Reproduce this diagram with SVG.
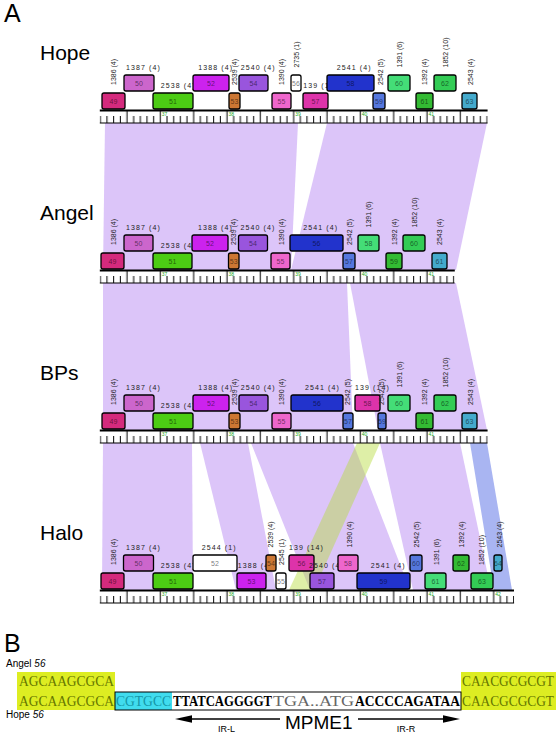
<svg xmlns="http://www.w3.org/2000/svg" width="560" height="735" viewBox="0 0 560 735">
<defs>
<style>
text{font-family:"Liberation Sans",Arial,sans-serif}
.t{font-size:21px;fill:#000}
.h{font-size:7px;letter-spacing:1.1px;fill:#222}
.v{font-size:7px;fill:#222}
.n{font-size:7px;text-anchor:middle;fill:#000;fill-opacity:.55}
.bx{stroke:#000;stroke-width:1.3;rx:2px}
.kb{font-size:5px;fill:#2a2}
.ax{stroke:#000;stroke-width:2}
.band{fill:#dcc5f9}
.c49{fill:#d42a7d}.c50{fill:#cc66cc}.c51{fill:#4ccc14}.c52{fill:#cc22ee}.c53{fill:#cc7733}.c54{fill:#9955dd}
.c55{fill:#ee66cc}.cw{fill:#fff}.c139{fill:#dd33aa}.c2541{fill:#2233cc}.c2542{fill:#5577dd}.c1391{fill:#44dd77}
.c1392{fill:#33bb33}.c1852{fill:#33cc55}.c2543{fill:#44aacc}
.seq{font-family:"Liberation Serif","Times New Roman",serif;font-size:14px}
.yl{fill:#dded22}.yt{fill:#667700}
</style>
<pattern id="tk" patternUnits="userSpaceOnUse" x="99.3333" y="110" width="33.3333" height="160">
<path d="M1 6V13M7.667 6V13M14.333 6V13M21 6V13M27.667 1V13" stroke="#000" stroke-width="1"/>
<rect x="0" y="12.5" width="33.3333" height="1" fill="#000"/>
</pattern>
</defs>
<rect width="560" height="735" fill="#fff"/>

<g id="connectors">
<polygon class="band" points="105,123 298,123 291,270 103,270"/>
<polygon class="band" points="327,123 487,123 456,270 291,270"/>
<polygon class="band" points="103,283 347,283 353,430 103,430"/>
<polygon class="band" points="350,283 456,283 487,430 378,430"/>
<polygon class="band" points="103,443 192,443 193,590 102,590"/>
<polygon class="band" points="200,443 248,443 276,590 236,590"/>
<polygon class="band" points="251,443 353,443 410,590 310,590"/>
<polygon class="band" points="380,443 460,443 491,590 413,590"/>
<polygon points="470,443 487,443 512,590 494,590" fill="#a9b5f2"/>
<polygon points="357,443 380,443 314,590 289,590" fill="#b5dc3c" fill-opacity=".45"/>
</g>

<text x="4" y="22" font-size="25">A</text>
<text x="4" y="652" font-size="25">B</text>

<g id="rulers">
<rect x="99.8" y="110" width="387.8" height="14" fill="url(#tk)"/>
<line class="ax" x1="99.8" y1="110.5" x2="487.6" y2="110.5"/>
<rect x="99.8" y="270" width="354.8" height="14" fill="url(#tk)"/>
<line class="ax" x1="99.8" y1="270.5" x2="454.8" y2="270.5"/>
<rect x="99.8" y="430" width="387.8" height="14" fill="url(#tk)"/>
<line class="ax" x1="99.8" y1="430.5" x2="487.6" y2="430.5"/>
<rect x="99.8" y="590" width="414.3" height="14" fill="url(#tk)"/>
<line class="ax" x1="99.8" y1="590.5" x2="514" y2="590.5"/>
<g class="kb">
<text x="161.8" y="116">37</text><text x="228.5" y="116">38</text><text x="295.2" y="116">39</text><text x="361.8" y="116">40</text><text x="428.5" y="116">41</text>
<text x="161.8" y="276">37</text><text x="228.5" y="276">38</text><text x="295.2" y="276">39</text><text x="361.8" y="276">40</text><text x="428.5" y="276">41</text>
<text x="161.8" y="436">37</text><text x="228.5" y="436">38</text><text x="295.2" y="436">39</text><text x="361.8" y="436">40</text><text x="428.5" y="436">41</text>
<text x="161.8" y="596">37</text><text x="228.5" y="596">38</text><text x="295.2" y="596">39</text><text x="361.8" y="596">40</text><text x="428.5" y="596">41</text><text x="495.2" y="596">42</text>
</g>
</g>

<g id="hope">
<text class="t" x="40" y="60">Hope</text>
<g id="hope-49"><text class="v" transform="translate(115.5,85) rotate(-90)">1386 (4)</text><rect class="bx c49" x="102" y="93" width="23" height="16"/><text class="n" x="113.5" y="103.5">49</text></g>
<g id="hope-50"><text class="h" x="126" y="70">1387 (4)</text><rect class="bx c50" x="124" y="75" width="30" height="16"/><text class="n" x="139" y="85.5">50</text></g>
<g id="hope-51"><text class="h" x="160.7" y="88">2538 (4)</text><rect class="bx c51" x="153" y="93" width="40" height="16"/><text class="n" x="173" y="103.5">51</text></g>
<g id="hope-52"><text class="h" x="198.3" y="70">1388 (4)</text><rect class="bx c52" x="193" y="75" width="36" height="16"/><text class="n" x="211" y="85.5">52</text></g>
<g id="hope-53"><text class="v" transform="translate(236.5,85) rotate(-90)">2539 (4)</text><rect class="bx c53" x="229" y="93" width="11" height="16"/><text class="n" x="234.5" y="103.5">53</text></g>
<g id="hope-54"><text class="h" x="240.7" y="70">2540 (4)</text><rect class="bx c54" x="239" y="75" width="29" height="16"/><text class="n" x="253.5" y="85.5">54</text></g>
<g id="hope-55"><text class="v" transform="translate(284,85) rotate(-90)">1390 (4)</text><rect class="bx c55" x="272" y="93" width="19" height="16"/><text class="n" x="281.5" y="103.5">55</text></g>
<g id="hope-56"><text class="v" transform="translate(299,67.5) rotate(-90)">2735 (1)</text><rect class="bx cw" x="291" y="75" width="10" height="16"/><text class="n" x="296" y="85.5">56</text></g>
<g id="hope-57"><text class="h" x="303.3" y="88">139 (14)</text><rect class="bx c139" x="303" y="93" width="25" height="16"/><text class="n" x="315.5" y="103.5">57</text></g>
<g id="hope-58"><text class="h" x="336.7" y="70">2541 (4)</text><rect class="bx c2541" x="327" y="75" width="47" height="16"/><text class="n" x="350.5" y="85.5">58</text></g>
<g id="hope-59"><text class="v" transform="translate(382.5,85) rotate(-90)">2542 (5)</text><rect class="bx c2542" x="373" y="93" width="12" height="16"/><text class="n" x="379" y="103.5">59</text></g>
<g id="hope-60"><text class="v" transform="translate(402,67.5) rotate(-90)">1391 (6)</text><rect class="bx c1391" x="388" y="75" width="22" height="16"/><text class="n" x="399" y="85.5">60</text></g>
<g id="hope-61"><text class="v" transform="translate(427,85) rotate(-90)">1392 (4)</text><rect class="bx c1392" x="416" y="93" width="17" height="16"/><text class="n" x="424.5" y="103.5">61</text></g>
<g id="hope-62"><text class="v" transform="translate(448,67.5) rotate(-90)">1852 (10)</text><rect class="bx c1852" x="434" y="75" width="22" height="16"/><text class="n" x="445" y="85.5">62</text></g>
<g id="hope-63"><text class="v" transform="translate(472.5,85) rotate(-90)">2543 (4)</text><rect class="bx c2543" x="462" y="93" width="15" height="16"/><text class="n" x="469.5" y="103.5">63</text></g>
</g>

<g id="angel">
<text class="t" x="40" y="220">Angel</text>
<g id="angel-49"><text class="v" transform="translate(115.5,245) rotate(-90)">1386 (4)</text><rect class="bx c49" x="101" y="253" width="23" height="16"/><text class="n" x="112.5" y="263.5">49</text></g>
<g id="angel-50"><text class="h" x="126" y="230">1387 (4)</text><rect class="bx c50" x="124" y="235" width="29" height="16"/><text class="n" x="138.5" y="245.5">50</text></g>
<g id="angel-51"><text class="h" x="160.7" y="248">2538 (4)</text><rect class="bx c51" x="153" y="253" width="39" height="16"/><text class="n" x="172.5" y="263.5">51</text></g>
<g id="angel-52"><text class="h" x="198" y="230">1388 (4)</text><rect class="bx c52" x="192" y="235" width="36" height="16"/><text class="n" x="210" y="245.5">52</text></g>
<g id="angel-53"><text class="v" transform="translate(236,245) rotate(-90)">2539 (4)</text><rect class="bx c53" x="228.5" y="253" width="10.5" height="16"/><text class="n" x="233.7" y="263.5">53</text></g>
<g id="angel-54"><text class="h" x="240.5" y="230">2540 (4)</text><rect class="bx c54" x="238.5" y="235" width="29" height="16"/><text class="n" x="253" y="245.5">54</text></g>
<g id="angel-55"><text class="v" transform="translate(283.5,245) rotate(-90)">1390 (4)</text><rect class="bx c55" x="271" y="253" width="19" height="16"/><text class="n" x="280.5" y="263.5">55</text></g>
<g id="angel-56"><text class="h" x="303.3" y="230">2541 (4)</text><rect class="bx c2541" x="290" y="235" width="53" height="16"/><text class="n" x="316.5" y="245.5">56</text></g>
<g id="angel-57"><text class="v" transform="translate(351.8,245) rotate(-90)">2542 (5)</text><rect class="bx c2542" x="343" y="253" width="12" height="16"/><text class="n" x="349" y="263.5">57</text></g>
<g id="angel-58"><text class="v" transform="translate(370.5,227.5) rotate(-90)">1391 (6)</text><rect class="bx c1391" x="358" y="235" width="21" height="16"/><text class="n" x="368.5" y="245.5">58</text></g>
<g id="angel-59"><text class="v" transform="translate(396.8,245) rotate(-90)">1392 (4)</text><rect class="bx c1392" x="386" y="253" width="16" height="16"/><text class="n" x="394" y="263.5">59</text></g>
<g id="angel-60"><text class="v" transform="translate(417,227.5) rotate(-90)">1852 (10)</text><rect class="bx c1852" x="403" y="235" width="22" height="16"/><text class="n" x="414" y="245.5">60</text></g>
<g id="angel-61"><text class="v" transform="translate(442,245) rotate(-90)">2543 (4)</text><rect class="bx c2543" x="432" y="253" width="15" height="16"/><text class="n" x="439.5" y="263.5">61</text></g>
</g>

<g id="bps">
<text class="t" x="40" y="380">BPs</text>
<g id="bps-49"><text class="v" transform="translate(115.5,405) rotate(-90)">1386 (4)</text><rect class="bx c49" x="102" y="413" width="23" height="16"/><text class="n" x="113.5" y="423.5">49</text></g>
<g id="bps-50"><text class="h" x="126" y="390">1387 (4)</text><rect class="bx c50" x="124" y="395" width="30" height="16"/><text class="n" x="139" y="405.5">50</text></g>
<g id="bps-51"><text class="h" x="160.7" y="408">2538 (4)</text><rect class="bx c51" x="153" y="413" width="40" height="16"/><text class="n" x="173" y="423.5">51</text></g>
<g id="bps-52"><text class="h" x="198.3" y="390">1388 (4)</text><rect class="bx c52" x="193" y="395" width="36" height="16"/><text class="n" x="211" y="405.5">52</text></g>
<g id="bps-53"><text class="v" transform="translate(236.5,405) rotate(-90)">2539 (4)</text><rect class="bx c53" x="229" y="413" width="11" height="16"/><text class="n" x="234.5" y="423.5">53</text></g>
<g id="bps-54"><text class="h" x="240.7" y="390">2540 (4)</text><rect class="bx c54" x="239" y="395" width="29" height="16"/><text class="n" x="253.5" y="405.5">54</text></g>
<g id="bps-55"><text class="v" transform="translate(284,405) rotate(-90)">1390 (4)</text><rect class="bx c55" x="272" y="413" width="19" height="16"/><text class="n" x="281.5" y="423.5">55</text></g>
<g id="bps-56"><text class="h" x="305" y="390">2541 (4)</text><rect class="bx c2541" x="291" y="395" width="52" height="16"/><text class="n" x="317" y="405.5">56</text></g>
<g id="bps-57"><text class="v" transform="translate(350.2,405) rotate(-90)">2542 (5)</text><rect class="bx c2542" x="343" y="413" width="10" height="16"/><text class="n" x="348" y="423.5">57</text></g>
<g id="bps-58"><text class="h" x="355" y="390">139 (14)</text><rect class="bx c139" x="355" y="395" width="25" height="16"/><text class="n" x="367.5" y="405.5">58</text></g>
<g id="bps-59"><text class="v" transform="translate(384.2,405) rotate(-90)">2542 (5)</text><rect class="bx c2542" x="378" y="413" width="8" height="16"/><text class="n" x="382" y="423.5">59</text></g>
<g id="bps-60"><text class="v" transform="translate(402,387.5) rotate(-90)">1391 (6)</text><rect class="bx c1391" x="388" y="395" width="22" height="16"/><text class="n" x="399" y="405.5">60</text></g>
<g id="bps-61"><text class="v" transform="translate(426.5,405) rotate(-90)">1392 (4)</text><rect class="bx c1392" x="416" y="413" width="17" height="16"/><text class="n" x="424.5" y="423.5">61</text></g>
<g id="bps-62"><text class="v" transform="translate(447.5,387.5) rotate(-90)">1852 (10)</text><rect class="bx c1852" x="434" y="395" width="22" height="16"/><text class="n" x="445" y="405.5">62</text></g>
<g id="bps-63"><text class="v" transform="translate(472.5,405) rotate(-90)">2543 (4)</text><rect class="bx c2543" x="462" y="413" width="15" height="16"/><text class="n" x="469.5" y="423.5">63</text></g>
</g>

<g id="halo">
<text class="t" x="40" y="540">Halo</text>
<g id="halo-49"><text class="v" transform="translate(115.5,565) rotate(-90)">1386 (4)</text><rect class="bx c49" x="101" y="573" width="23" height="16"/><text class="n" x="112.5" y="583.5">49</text></g>
<g id="halo-50"><text class="h" x="126" y="550">1387 (4)</text><rect class="bx c50" x="123.5" y="555" width="30" height="16"/><text class="n" x="138.5" y="565.5">50</text></g>
<g id="halo-51"><text class="h" x="160.7" y="568">2538 (4)</text><rect class="bx c51" x="153" y="573" width="40" height="16"/><text class="n" x="173" y="583.5">51</text></g>
<g id="halo-52"><text class="h" x="201.7" y="550">2544 (1)</text><rect class="bx cw" x="193" y="555" width="44" height="16"/><text class="n" x="215" y="565.5">52</text></g>
<g id="halo-53"><text class="h" x="237.7" y="568">1388 (4)</text><rect class="bx c52" x="237" y="573" width="29" height="16"/><text class="n" x="251.5" y="583.5">53</text></g>
<g id="halo-54"><text class="v" transform="translate(272.5,547.5) rotate(-90)">2539 (4)</text><rect class="bx c53" x="266" y="555" width="10" height="16"/><text class="n" x="271" y="565.5">54</text></g>
<g id="halo-55"><text class="v" transform="translate(283.5,565) rotate(-90)">2545 (1)</text><rect class="bx cw" x="276" y="573" width="10" height="16"/><text class="n" x="281" y="583.5">55</text></g>
<g id="halo-56"><text class="h" x="289" y="550">139 (14)</text><rect class="bx c139" x="289" y="555" width="25" height="16"/><text class="n" x="301.5" y="565.5">56</text></g>
<g id="halo-57"><text class="h" x="309" y="568">2540 (4)</text><rect class="bx c54" x="310" y="573" width="24" height="16"/><text class="n" x="322" y="583.5">57</text></g>
<g id="halo-58"><text class="v" transform="translate(351.8,547.5) rotate(-90)">1390 (4)</text><rect class="bx c55" x="338" y="555" width="20" height="16"/><text class="n" x="348" y="565.5">58</text></g>
<g id="halo-59"><text class="h" x="370.7" y="568">2541 (4)</text><rect class="bx c2541" x="357" y="573" width="53" height="16"/><text class="n" x="383.5" y="583.5">59</text></g>
<g id="halo-60"><text class="v" transform="translate(419.2,547.5) rotate(-90)">2542 (5)</text><rect class="bx c2542" x="410" y="555" width="12" height="16"/><text class="n" x="416" y="565.5">60</text></g>
<g id="halo-61"><text class="v" transform="translate(439.2,565) rotate(-90)">1391 (6)</text><rect class="bx c1391" x="425" y="573" width="21" height="16"/><text class="n" x="435.5" y="583.5">61</text></g>
<g id="halo-62"><text class="v" transform="translate(464.2,547.5) rotate(-90)">1392 (4)</text><rect class="bx c1392" x="453" y="555" width="16" height="16"/><text class="n" x="461" y="565.5">62</text></g>
<g id="halo-63"><text class="v" transform="translate(484.2,565) rotate(-90)">1852 (10)</text><rect class="bx c1852" x="471" y="573" width="22" height="16"/><text class="n" x="482" y="583.5">63</text></g>
<g id="halo-64"><text class="v" transform="translate(501.5,547.5) rotate(-90)">2543 (4)</text><rect class="bx c2543" x="494" y="555" width="8" height="16"/><text class="n" x="498" y="565.5">64</text></g>
</g>

<g id="sequence">
<text x="6" y="667" font-size="10">Angel <tspan font-style="italic">56</tspan></text>
<text x="6" y="718" font-size="10">Hope <tspan font-style="italic">56</tspan></text>
<rect class="yl" x="17" y="672" width="98" height="38"/>
<rect class="yl" x="461" y="672" width="95" height="38"/>
<rect x="115" y="692" width="57" height="18" fill="#40dcee"/>
<rect x="115" y="692" width="346" height="18" fill="none" stroke="#000" stroke-width="1"/>
<text class="seq yt" x="19" y="686" textLength="95" lengthAdjust="spacingAndGlyphs">AGCAAGCGCA</text>
<text class="seq yt" x="462" y="686" textLength="92" lengthAdjust="spacingAndGlyphs">CAACGCGCGT</text>
<text class="seq yt" x="19" y="706" textLength="95" lengthAdjust="spacingAndGlyphs">AGCAAGCGCA</text>
<text class="seq" x="116" y="706" fill="#1597a8" textLength="55" lengthAdjust="spacingAndGlyphs">CGTGCC</text>
<text class="seq" x="173" y="706" font-weight="bold" fill="#000" textLength="99" lengthAdjust="spacingAndGlyphs">TTATCAGGGGT</text>
<text class="seq" x="273" y="706" fill="#666" textLength="81" lengthAdjust="spacingAndGlyphs">TGA..ATG</text>
<text class="seq" x="355" y="706" font-weight="bold" fill="#000" textLength="105" lengthAdjust="spacingAndGlyphs">ACCCCAGATAA</text>
<text class="seq yt" x="462" y="706" textLength="92" lengthAdjust="spacingAndGlyphs">CAACGCGCGT</text>
<line x1="280" y1="719" x2="190" y2="719" stroke="#000" stroke-width="1.4"/>
<polygon points="175,719 192,715.3 192,722.7" fill="#000"/>
<line x1="358" y1="719" x2="445" y2="719" stroke="#000" stroke-width="1.4"/>
<polygon points="460,719 443,715.3 443,722.7" fill="#000"/>
<text x="285" y="729" font-size="19">MPME1</text>
<text x="226.5" y="732" font-size="9" text-anchor="middle">IR-L</text>
<text x="406" y="732" font-size="9" text-anchor="middle">IR-R</text>
</g>
</svg>
